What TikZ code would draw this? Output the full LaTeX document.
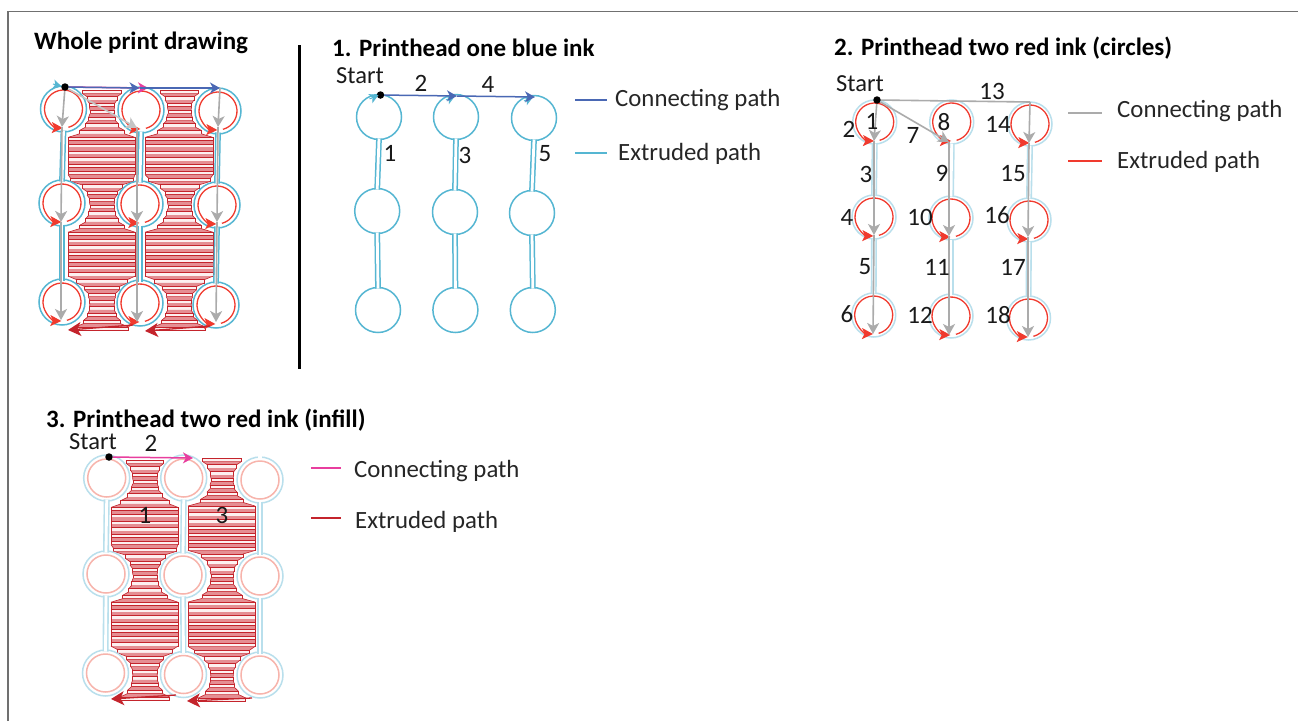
\documentclass[tikz,border=0pt]{standalone}
\usepackage{fontspec}
\setmainfont{Carlito}
\usetikzlibrary{arrows.meta,calc}
\definecolor{cy}{HTML}{55B6D2}
\definecolor{cypale}{HTML}{B9DFEC}
\definecolor{rd}{HTML}{F03A2E}
\definecolor{rdpale}{HTML}{F7B4AC}
\definecolor{infl}{HTML}{C4242C}
\definecolor{inband}{HTML}{E58E93}
\definecolor{inslot}{HTML}{FDF0F0}
\definecolor{pu}{HTML}{4A68B4}
\definecolor{pk}{HTML}{E83E9E}
\definecolor{gy}{HTML}{ABABAB}
\definecolor{fr}{HTML}{707070}
\tikzset{
  lab/.style={font=\fontsize{25}{25}\selectfont,inner sep=0pt,text=black!90},
  ttl/.style={font=\fontsize{25}{25}\selectfont\bfseries,inner sep=0pt,anchor=west},
  leg/.style={font=\fontsize{24.8}{25}\selectfont,inner sep=0pt,anchor=west,text=black!85},
  stt/.style={font=\fontsize{24.5}{25}\selectfont,inner sep=0pt,text=black!90},
  dot/.style={circle,fill=black,inner sep=0pt,minimum size=7.5pt},
  gyar/.style={draw=gy,line width=1.6pt,-{Stealth[length=11pt,width=12pt,inset=3pt]}},
  puar/.style={draw=pu,line width=1.5pt,-{Stealth[length=10pt,width=11pt,inset=3pt]}},
  pkar/.style={draw=pk,line width=1.5pt,-{Stealth[length=10pt,width=11pt,inset=3pt]}},
  rdar/.style={draw=infl,line width=1.3pt,-{Stealth[length=13pt,width=14pt,inset=3.5pt]}},
  stemcy/.style={draw=cy,line width=1.5pt,double=white,double distance=2.8pt},
  stempale/.style={draw=cypale,line width=1.6pt,double=white,double distance=2.8pt},
}
% coordinates of a 3x3 grid of circles
\newcommand\gridpts[2]{\foreach \n/\x/\y [count=\i] in {#2}{\coordinate (#1\n) at (\x,\y);}}
% ring with a stem below
\newcommand\stems[2]{%
  \foreach \c in {1,2,3}{
    \draw[#2] ($(#11\c)+(0,21.5)$) -- ($(#12\c)+(0,-21.5)$);
    \draw[#2] ($(#12\c)+(0,21.5)$) -- ($(#13\c)+(0,-21.5)$);
  }}
\newcommand\rings[3]{%
  \foreach \r in {1,2,3}{\foreach \c in {1,2,3}{
    \draw[#2,line width=1.5pt] (#1\r\c) circle[radius=#3pt];
  }}}
\newcommand\redrings[1]{%
  \foreach \r in {1,2,3}{\foreach \c in {1,2,3}{
    \draw[rd,line width=1.3pt,-{Stealth[length=11pt,width=11pt,inset=2.5pt]}]
      ($(#1\r\c)+(285:19pt)$) arc[start angle=285,delta angle=343,radius=19pt];
  }}}
% infill strip: x min, x max, centre x left, centre x right, row ys (3), y top, y bottom
\newcommand\infill[9]{%
  \pgfmathsetmacro\stepy{(#9-#8)/35}
  \foreach \k in {0,...,35}{
    \pgfmathsetmacro\yy{#8+\k*\stepy}
    \pgfmathsetmacro\qa{sqrt(729-min(27,abs(\yy-#5))^2)}
    \pgfmathsetmacro\qb{sqrt(729-min(27,abs(\yy-#6))^2)}
    \pgfmathsetmacro\qc{sqrt(729-min(27,abs(\yy-#7))^2)}
    \pgfmathsetmacro\qd{max(\qa,\qb,\qc)}
    \pgfmathsetmacro\xl{max(#1,#3+\qd)}
    \pgfmathsetmacro\xr{min(#2,#4-\qd)}
    \pgfmathsetmacro\yb{\yy+3.3}
    \ifnum\k>0
      \fill[inband] (\pxl,\pyb) -- (\pxr,\pyb) -- (\xr,\yy) -- (\xl,\yy) -- cycle;
      \draw[infl,line width=.6pt] (\pxl,\pyb) -- (\xl,\yy) (\pxr,\pyb) -- (\xr,\yy);
    \fi
    \filldraw[fill=inslot,draw=infl,line width=.8pt] (\xl,\yy) rectangle (\xr,\yb);
    \global\let\pxl\xl \global\let\pxr\xr \global\let\pyb\yb
  }}
\begin{document}
\begin{tikzpicture}[x=1pt,y=-1pt]
\useasboundingbox (0,0) rectangle (1298,721);
\fill[white] (0,0) rectangle (1298,721);
\coordinate (frBL) at (8,721); \coordinate (frTL) at (8,11.5); \coordinate (frTR) at (1298,11.5);
\draw[fr,line width=1.2pt] (frBL) -- (frTL) -- (frTR);
\coordinate (divT) at (299.5,45); \coordinate (divB) at (299.5,369);
\draw[black,line width=3.2pt] (divT) -- (divB);

% titles
\node[ttl] (t0) at (34,43) {Whole print drawing};
\node[ttl] (t1) at (332,48) {1. Printhead one blue ink};
\node[ttl] (t2) at (834,48) {2. Printhead two red ink (circles)};
\node[ttl] (t3) at (46,420) {3. Printhead two red ink (infill)};

% ---------- whole print ----------
\gridpts{W}{11/63.5/109,12/141/110,13/218/111,21/62/203,22/140/204,23/217/205,31/62/302,32/140/303,33/216/305}
\infill{68}{135}{63}{141}{109}{204}{303}{90}{327}
\infill{145}{213}{141}{218}{109}{204}{303}{90}{327}
\rings{W}{cy}{23}
\stems{W}{stemcy}
\redrings{W}
\coordinate (Wb1a) at (133,325); \coordinate (Wb1b) at (68,330);
\coordinate (Wb2a) at (210,326); \coordinate (Wb2b) at (145,331);
\draw[rdar] (Wb1a) -- (Wb1b);
\draw[rdar] (Wb2a) -- (Wb2b);
\node[dot] (Wst) at (65,87) {};
\coordinate (Wp) at (148,88); \coordinate (Wq) at (139.5,88); \coordinate (Wr) at (220,88);
\draw[cy,line width=1pt,-{Stealth[length=8pt,width=9pt,inset=2pt]}] ($(Wst)+(-12,-3)$) -- (Wst);
\draw[pkar] (Wst) -- (Wp);
\draw[puar] (Wst) -- (Wq);
\draw[puar] (Wq) -- (Wr);
\coordinate (Wg11) at (62,127); \coordinate (Wg12) at (61,222); \coordinate (Wg13) at (61,320);
\coordinate (Wg21) at (137,128); \coordinate (Wg22) at (137,222); \coordinate (Wg23) at (137,322);
\coordinate (Wg31) at (218,127); \coordinate (Wg32) at (217,222); \coordinate (Wg33) at (216,322);
\draw[gyar] (Wst) -- (Wg11); \draw[gyar] (Wg11) -- (Wg12); \draw[gyar] (Wg12) -- (Wg13);
\draw[gyar,gy!70] (Wst) -- (Wg21); \draw[gyar] (Wg21) -- (Wg22); \draw[gyar] (Wg22) -- (Wg23);
\draw[gyar] (Wr) -- (Wg31); \draw[gyar] (Wg31) -- (Wg32); \draw[gyar] (Wg32) -- (Wg33);

% ---------- panel 1 ----------
\gridpts{A}{11/379/117,12/456/117,13/534/118,21/377.2/211,22/455/212,23/532/213,31/378/310,32/455.4/310,33/532.8/310}
\rings{A}{cy}{22.5}
\stems{A}{stemcy}
\node[dot] (Ast) at (380.5,95) {};
\coordinate (Ah2) at (457,96); \coordinate (Ah3) at (535,97);
\foreach \n in {Ast,Ah2,Ah3}{
  \draw[cy,line width=1pt,-{Stealth[length=9pt,width=10pt,inset=2.5pt]}] ($(\n)+(-11,4)$) -- ($(\n)+(-2,0)$);
}
\draw[puar] (Ast) -- (Ah2);
\draw[puar] (Ah2) -- (Ah3);
\node[stt] (As) at (360,76) {Start};
\node[lab] (A2) at (421,83) {2};
\node[lab] (A4) at (488,84) {4};
\node[lab] (A1) at (390,153) {1};
\node[lab] (A3) at (465,155) {3};
\node[lab] (A5) at (545,154) {5};
\coordinate (Al1) at (575,100); \coordinate (Al2) at (607,100);
\coordinate (Al3) at (575,153); \coordinate (Al4) at (607,153);
\draw[pu,line width=1.3pt] (Al1) -- (Al2);
\draw[cy,line width=1.5pt] (Al3) -- (Al4);
\node[leg] (Ac) at (615,100) {Connecting path};
\node[leg] (Ae) at (618,154) {Extruded path};

% ---------- panel 2 ----------
\gridpts{B}{11/874.7/122,12/951.7/122,13/1030/124,21/874/217,22/951/218,23/1029/220,31/873.7/315,32/951/316,33/1028.5/318}
\rings{B}{cypale}{22}
\stems{B}{stempale}
\redrings{B}
\node[dot] (Bst) at (877,100) {};
\coordinate (Bc) at (1030,102);
\coordinate (Bg11) at (874,141); \coordinate (Bg12) at (874,235); \coordinate (Bg13) at (873,334);
\coordinate (Bg21) at (949,142); \coordinate (Bg22) at (949,236); \coordinate (Bg23) at (949,335);
\coordinate (Bg31) at (1029,143); \coordinate (Bg32) at (1028,237); \coordinate (Bg33) at (1028,337);
\draw[gyar] (Bst) -- (Bg11); \draw[gyar] (Bg11) -- (Bg12); \draw[gyar] (Bg12) -- (Bg13);
\draw[gyar] (Bst) -- (Bg21); \draw[gyar] (Bg21) -- (Bg22); \draw[gyar] (Bg22) -- (Bg23);
\draw[gy,line width=1.6pt] (Bst) -- (Bc);
\draw[gyar] (Bc) -- (Bg31); \draw[gyar] (Bg31) -- (Bg32); \draw[gyar] (Bg32) -- (Bg33);
\node[stt] (Bs) at (860,84) {Start};
\foreach \t/\x/\y in {1/872/121,2/849/129,7/913/135,8/944/122,13/992/91,14/998/124,3/866/174,9/942/173,15/1013/174,4/847/217,10/920/217,16/997/215,5/865/267,11/937/267,17/1013/267,6/847/314,12/920/315,18/998/315}{
  \node[lab] (Bn\t) at (\x,\y) {\t};
}
\coordinate (Bl1) at (1068,113); \coordinate (Bl2) at (1102,113);
\coordinate (Bl3) at (1068,161); \coordinate (Bl4) at (1102,161);
\draw[gy,line width=1.3pt] (Bl1) -- (Bl2);
\draw[rd,line width=1.5pt] (Bl3) -- (Bl4);
\node[leg] (Bcc) at (1117,111) {Connecting path};
\node[leg] (Bee) at (1117,162) {Extruded path};

% ---------- panel 3 ----------
\gridpts{C}{11/106.7/478,12/183.7/478,13/260/480,21/106/574,22/183/575,23/260/576,31/105.5/673,32/183.5/674.5,33/260/675}
\infill{111}{178}{106}{184}{478}{574}{674}{460}{697}
\infill{188}{255}{184}{260}{478}{575}{675}{458}{698}
\rings{C}{cypale}{23}
\stems{C}{stempale}
\rings{C}{rdpale}{19}
\coordinate (Cg1) at ($(C13)+(-2,-23)$); \coordinate (Cg2) at ($(C13)+(2,-23)$);
\draw[white,line width=3pt] (Cg1) -- (Cg2);
\coordinate (Cb1a) at (176,695); \coordinate (Cb1b) at (111,699);
\coordinate (Cb2a) at (252,698); \coordinate (Cb2b) at (187,701);
\draw[rdar] (Cb1a) -- (Cb1b);
\draw[rdar] (Cb2a) -- (Cb2b);
\node[dot] (Cst) at (109,457) {};
\coordinate (Cp) at (193,458);
\draw[pkar] (Cst) -- (Cp);
\node[stt] (Cs) at (93,442) {Start};
\node[lab] (C2) at (151,443) {2};
\node[lab] (C1) at (145,515) {1};
\node[lab] (C3) at (222,515) {3};
\coordinate (Cl1) at (311,468); \coordinate (Cl2) at (341,468);
\coordinate (Cl3) at (311,518); \coordinate (Cl4) at (341,518);
\draw[pk,line width=1.3pt] (Cl1) -- (Cl2);
\draw[infl,line width=1.5pt] (Cl3) -- (Cl4);
\node[leg] (Ccc) at (354,471) {Connecting path};
\node[leg] (Cee) at (355,522) {Extruded path};
\end{tikzpicture}
\end{document}
